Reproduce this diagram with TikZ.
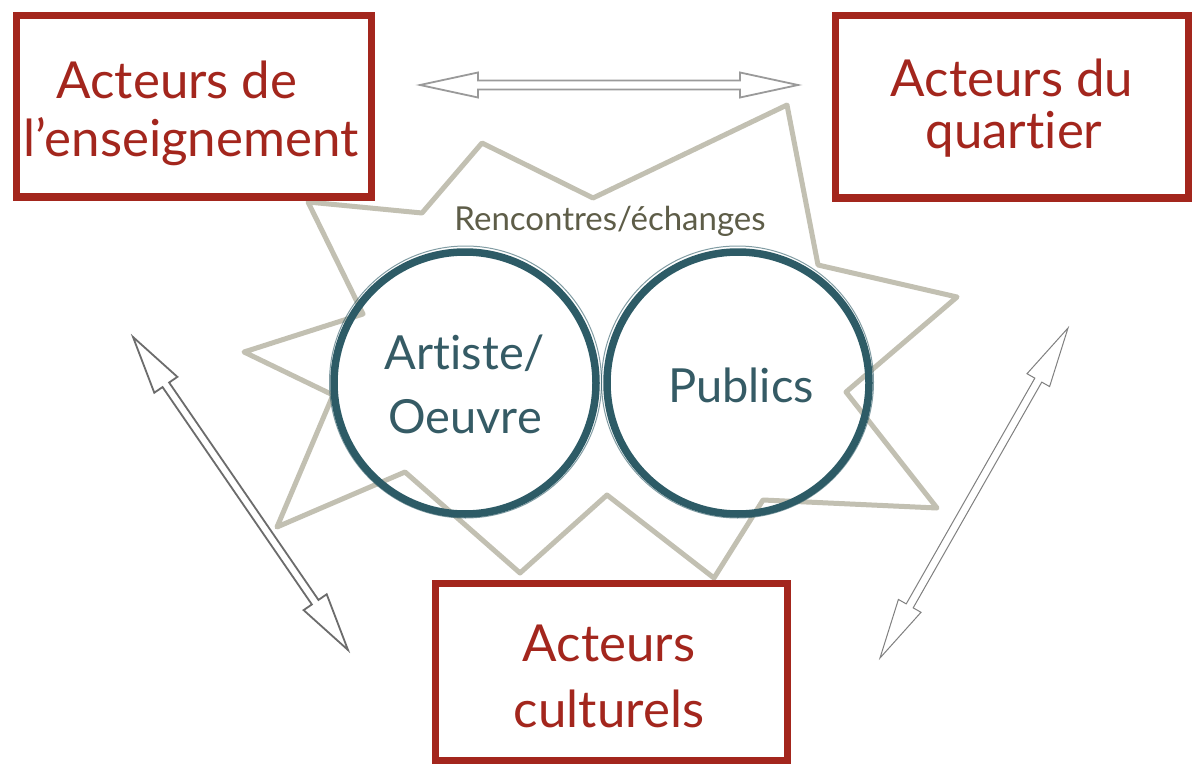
\documentclass[tikz,border=0pt]{standalone}
\usepackage{fontspec}
\setmainfont{Lato}[Ligatures={NoCommon}]
\usetikzlibrary{calc}
\definecolor{boxred}{HTML}{A3261D}
\definecolor{startan}{HTML}{C2C0B2}
\definecolor{circteal}{HTML}{2D5B66}
\definecolor{circtxt}{HTML}{355B65}
\definecolor{rencol}{HTML}{5E5D48}
\definecolor{arrgrey}{HTML}{9A9A9A}
\newcommand\hollowdarrow[6]{%
  \draw[#6] (#1) -- ($(#1)!#3!(#2)!#4!90:(#2)$) -- ($(#1)!#3!(#2)!#5!90:(#2)$)
    -- ($(#2)!#3!(#1)!#5!-90:(#1)$) -- ($(#2)!#3!(#1)!#4!-90:(#1)$) -- (#2)
    -- ($(#2)!#3!(#1)!#4!90:(#1)$) -- ($(#2)!#3!(#1)!#5!90:(#1)$)
    -- ($(#1)!#3!(#2)!#5!-90:(#2)$) -- ($(#1)!#3!(#2)!#4!-90:(#2)$) -- cycle;}
\begin{document}
\begin{tikzpicture}[x=1pt,y=-1pt,
  boxframe/.style={draw=boxred, line width=7pt, fill=white, inner sep=0pt},
  boxtext/.style={text=boxred, font=\fontsize{51}{56}\selectfont, anchor=base, inner sep=0pt},
  ringnode/.style={circle, draw=circteal, line width=7.5pt, minimum size=262pt, inner sep=0pt},
  ringtext/.style={text=circtxt, font=\fontsize{47}{50}\selectfont, anchor=base, inner sep=0pt},
  arrowline/.style={draw=arrgrey, fill=white, line width=1.8pt, line join=miter}]
\useasboundingbox (0,0) rectangle (1192,765);
\fill[white] (0,0) rectangle (1192,765);
% star
\draw[startan, line width=5pt, line join=round, line cap=round]
  (308,202) -- (422,213) -- (482,143) -- (593,198) -- (787,105) -- (818,265)
  -- (957,297) -- (846,392) -- (937,508) -- (763,500) -- (714,578) -- (607,495)
  -- (520,573) -- (405,472) -- (277,527) -- (333,395) -- (244,352) -- (363,314) -- cycle;
\node[text=rencol, font=\fontsize{33}{36}\selectfont, anchor=base, inner sep=0pt] (renc) at (610,230) {Rencontres/échanges};
% circles
\node[ringnode] (artiste) at (465,383) {};
\node[ringnode] (publics) at (738,383) {};
\draw[circteal, line width=1pt, opacity=.6] (465.5,382) circle (136);
\draw[circteal, line width=1pt, opacity=.6] (737.5,382) circle (136);
\node[ringtext] (artt1) at (465,369) {Artiste/};
\node[ringtext] (artt2) at (465,433) {Oeuvre};
\node[ringtext] (pubt) at (741,402) {Publics};
% arrows
\coordinate (tA) at (420,85);  \coordinate (tB) at (798,85);
\coordinate (lA) at (133,337); \coordinate (lB) at (348,650);
\coordinate (rA) at (1068,328); \coordinate (rB) at (880,658);
\hollowdarrow{tA}{tB}{58pt}{12.5pt}{4.5pt}{arrowline}
\hollowdarrow{lA}{lB}{58pt}{14pt}{4pt}{arrowline, draw=gray!85!black}
\hollowdarrow{rA}{rB}{60pt}{13pt}{4pt}{arrowline, line width=1pt, draw=gray}
% boxes
\node[boxframe, minimum width=355pt, minimum height=181pt] (ens) at (193.5,106.5) {};
\node[boxframe, minimum width=353pt, minimum height=182pt] (quart) at (1011.5,107) {};
\node[boxframe, minimum width=352pt, minimum height=177pt] (cult) at (611,671.5) {};
\node[boxtext] (ens1) at (177,99) {Acteurs de};
\node[boxtext] (ens2) at (191,157) {l’enseignement};
\node[boxtext] (quart1) at (1012,97) {Acteurs du};
\node[boxtext] (quart2) at (1014,149) {quartier};
\node[boxtext] (cult1) at (609,661) {Acteurs};
\node[boxtext] (cult2) at (609,727) {culturels};
\end{tikzpicture}
\end{document}
